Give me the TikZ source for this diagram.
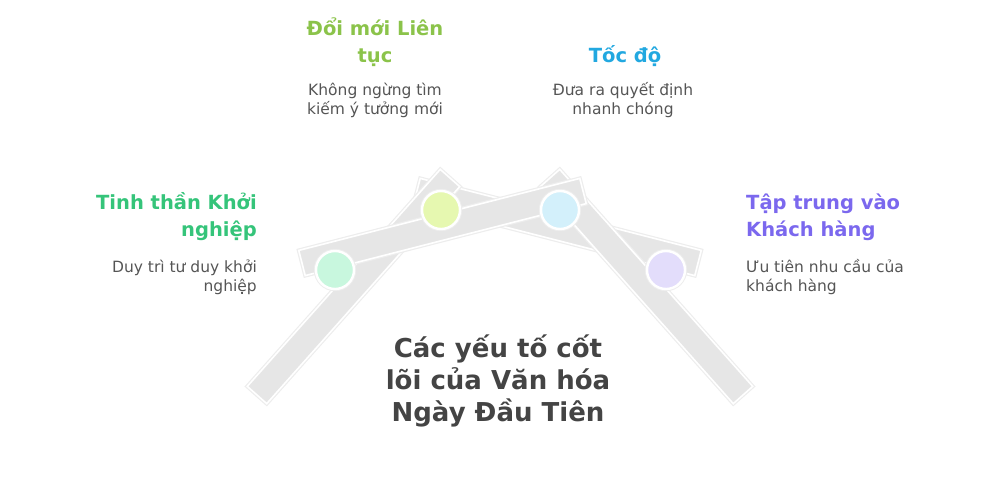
\documentclass[tikz,border=0pt]{standalone}
\usepackage{fontspec}
\setmainfont{DejaVu Sans}
\usetikzlibrary{calc}
\definecolor{bargray}{HTML}{E6E6E6}
\definecolor{halo}{HTML}{EDEDED}
\definecolor{cgreen}{HTML}{35C47A}
\definecolor{clime}{HTML}{8BC34A}
\definecolor{cblue}{HTML}{22A8E0}
\definecolor{cpurple}{HTML}{7B68EE}
\definecolor{fgreen}{HTML}{C8F7DE}
\definecolor{flime}{HTML}{E6F8B0}
\definecolor{fblue}{HTML}{D3F0FB}
\definecolor{fpurple}{HTML}{E3DDFB}
\definecolor{desc}{HTML}{555555}
\definecolor{maintext}{HTML}{444444}
\newcommand\roofbar[2]{%
  \filldraw[barstyle] ($(#1)!13pt!90:(#2)$) -- ($(#2)!13pt!-90:(#1)$) --
    ($(#2)!13pt!90:(#1)$) -- ($(#1)!13pt!-90:(#2)$) -- cycle;}
\tikzset{
  barstyle/.style={preaction={draw=halo, line width=4pt}, fill=bargray,
    draw=white, line width=1.6pt, line join=miter},
  dot/.style={circle, minimum size=38pt, inner sep=0pt, draw=white,
    line width=2.4pt, preaction={draw=halo, line width=4.4pt}},
  headtxt/.style={font=\fontsize{19.5}{27}\selectfont\bfseries, inner sep=0pt},
  desctxt/.style={font=\fontsize{15.5}{19}\selectfont, text=desc, inner sep=0pt},
  maintxt/.style={font=\fontsize{26}{32}\selectfont\bfseries, text=maintext,
    inner sep=0pt, align=center},
}
\begin{document}
\begin{tikzpicture}[x=1pt, y=-1pt]
\useasboundingbox (0,0) rectangle (1001,480);
% bar end points
\coordinate (ldA) at (257,395);
\coordinate (ldB) at (450,178);
\coordinate (rdA) at (743,395);
\coordinate (rdB) at (550,178);
\coordinate (lsA) at (302,263);
\coordinate (lsB) at (583,191);
\coordinate (rsA) at (698,263);
\coordinate (rsB) at (417,191);
% bars
\roofbar{rsA}{rsB}
\roofbar{ldA}{ldB}
\roofbar{rdA}{rdB}
\roofbar{lsA}{lsB}
% circles
\node[dot, fill=fgreen] (c1) at (335,270) {};
\node[dot, fill=flime] (c2) at (441,210) {};
\node[dot, fill=fblue] (c3) at (560,210) {};
\node[dot, fill=fpurple] (c4) at (666,270) {};
% texts (anchor base = baseline of the last line)
\node[headtxt, text=clime, align=center, anchor=base] (h2) at (375,62) {Đổi mới Liên\\tục};
\node[desctxt, align=center, anchor=base] (d2) at (375,114) {Không ngừng tìm\\kiếm ý tưởng mới};
\node[headtxt, text=cblue, align=center, anchor=base] (h3) at (625,62) {Tốc độ};
\node[desctxt, align=center, anchor=base] (d3) at (623,114) {Đưa ra quyết định\\nhanh chóng};
\node[headtxt, text=cgreen, align=right, anchor=base east] (h1) at (257,236) {Tinh thần Khởi\\nghiệp};
\node[desctxt, align=right, anchor=base east] (d1) at (257,291) {Duy trì tư duy khởi\\nghiệp};
\node[headtxt, text=cpurple, align=left, anchor=base west] (h4) at (746,236) {Tập trung vào\\Khách hàng};
\node[desctxt, align=left, anchor=base west] (d4) at (746,291) {Ưu tiên nhu cầu của\\khách hàng};
\node[maintxt, anchor=base] (title) at (498,421) {Các yếu tố cốt\\lõi của Văn hóa\\Ngày Đầu Tiên};
\end{tikzpicture}
\end{document}
